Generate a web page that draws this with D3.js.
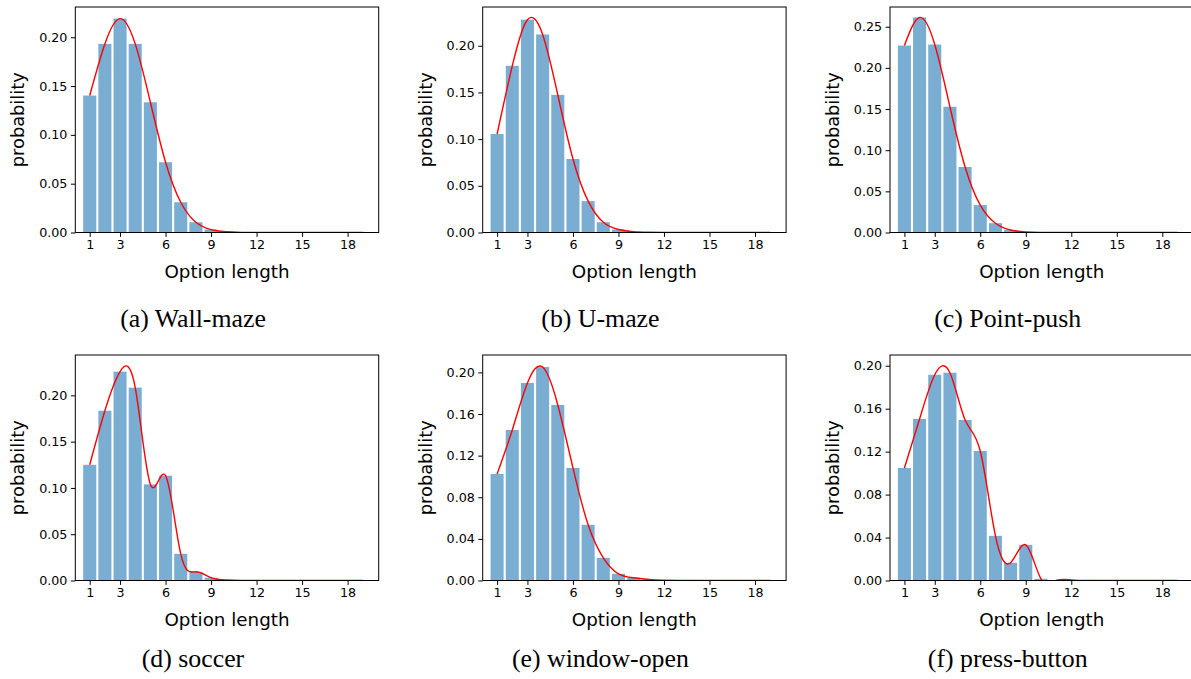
<!DOCTYPE html>
<html>
<head>
<meta charset="utf-8">
<script src="https://cdn.jsdelivr.net/npm/d3@7"></script>
<style>
  html, body { margin: 0; padding: 0; background: #fff; }
  svg { display: block; }
</style>
</head>
<body>
<svg id="chart" width="1191" height="679"></svg>
<script>
// ---------------- data ----------------
const optionLengths = d3.range(1, 20); // 1..19

const wallMaze    = [0.1403, 0.1932, 0.2191, 0.1932, 0.1334, 0.0720, 0.0310, 0.0105, 0.0030, 0.0007, 0.0001, 0, 0, 0, 0, 0, 0, 0, 0];
const uMaze       = [0.1055, 0.1785, 0.2279, 0.2121, 0.1474, 0.0787, 0.0336, 0.0110, 0.0032, 0.0008, 0.0002, 0, 0, 0, 0, 0, 0, 0, 0];
const pointPush   = [0.2272, 0.2613, 0.2284, 0.1528, 0.0796, 0.0333, 0.0113, 0.0030, 0.0007, 0.0001, 0, 0, 0, 0, 0, 0, 0, 0, 0];
const soccer      = [0.1250, 0.1834, 0.2256, 0.2083, 0.1038, 0.1132, 0.0288, 0.0094, 0.0030, 0.0005, 0.0001, 0, 0, 0, 0, 0, 0, 0, 0];
const windowOpen  = [0.1024, 0.1447, 0.1898, 0.2051, 0.1687, 0.1082, 0.0535, 0.0218, 0.0064, 0.0026, 0.0010, 0.0003, 0.0001, 0, 0, 0, 0, 0, 0];
const pressButton = [0.1048, 0.1504, 0.1916, 0.1935, 0.1495, 0.1206, 0.0416, 0.0165, 0.0332, 0.0016, 0, 0.0005, 0, 0, 0, 0, 0, 0, 0];

const panelSeries   = [wallMaze, uMaze, pointPush, soccer, windowOpen, pressButton];
const panelCaptions = ["(a) Wall-maze", "(b) U-maze", "(c) Point-push", "(d) soccer", "(e) window-open", "(f) press-button"];
const panelYMax     = [0.231, 0.2415, 0.274, 0.2436, 0.2167, 0.21];
const yTicksA       = [0, 0.05, 0.10, 0.15, 0.20];
const yTicksC       = [0, 0.05, 0.10, 0.15, 0.20, 0.25];
const yTicksE       = [0, 0.04, 0.08, 0.12, 0.16, 0.20];
const panelYTicks   = [yTicksA, yTicksA, yTicksC, yTicksA, yTicksE, yTicksE];
const xTicks        = [1, 3, 6, 9, 12, 15, 18];
const xDomain       = [0.05, 20.05];
const xLabel        = "Option length";
const yLabel        = "probability";

// ---------------- layout ----------------
const colLeft = [75.3, 482.7, 890];
const rowTop  = [7, 355];
const W = 303.4, H = 225.5;
const barWidth = 0.86;
const captionBaseline = [327, 667];

const svg = d3.select("#chart");
const defs = svg.append("defs");

panelSeries.forEach((series, i) => {
  const col = i % 3, row = Math.floor(i / 3);
  const left = colLeft[col], top = rowTop[row];
  const g = svg.append("g").attr("transform", `translate(${left},${top})`);

  const x = d3.scaleLinear().domain(xDomain).range([0, W]);
  const y = d3.scaleLinear().domain([0, panelYMax[i]]).range([H, 0]);

  const clipId = "clip" + i;
  defs.append("clipPath").attr("id", clipId)
    .append("rect").attr("x", 0).attr("y", 0).attr("width", W).attr("height", H);

  const plot = g.append("g").attr("clip-path", `url(#${clipId})`);

  // bars
  plot.selectAll("rect.bar")
    .data(series)
    .enter().append("rect")
    .attr("class", "bar")
    .attr("x", (d, k) => x(optionLengths[k] - barWidth / 2))
    .attr("width", x(barWidth) - x(0))
    .attr("y", d => y(d))
    .attr("height", d => H - y(d))
    .attr("fill", "#1f77b4")
    .attr("fill-opacity", 0.6);

  // smooth curve through bar values
  const pts = series.map((d, k) => [optionLengths[k], d]);
  const line = d3.line()
    .x(d => x(d[0]))
    .y(d => y(d[1]))
    .curve(d3.curveNatural);
  plot.append("path")
    .attr("d", line(pts))
    .attr("fill", "none")
    .attr("stroke", "red")
    .attr("stroke-width", 1.4);

  // axes
  const xAxis = d3.axisBottom(x).tickValues(xTicks).tickSize(4.4).tickPadding(3.5)
    .tickFormat(d3.format("d"));
  const yFmt = d3.format(".2f");
  const yAxis = d3.axisLeft(y).tickValues(panelYTicks[i]).tickSize(4.4).tickPadding(3.5)
    .tickFormat(yFmt);

  const gx = g.append("g").attr("transform", `translate(0,${H})`).call(xAxis);
  const gy = g.append("g").call(yAxis);
  [gx, gy].forEach(ax => {
    ax.select(".domain").remove();
    ax.selectAll("line").attr("stroke", "#000").attr("stroke-width", 1);
    ax.selectAll("text")
      .attr("font-family", "DejaVu Sans")
      .attr("font-size", 12.7)
      .attr("fill", "#000");
  });

  // frame (spines)
  g.append("rect")
    .attr("x", 0).attr("y", 0).attr("width", W).attr("height", H)
    .attr("fill", "none").attr("stroke", "#000").attr("stroke-width", 1);

  // axis labels
  g.append("text")
    .attr("x", W / 2).attr("y", H + 45)
    .attr("text-anchor", "middle")
    .attr("font-family", "DejaVu Sans").attr("font-size", 18.3)
    .attr("fill", "#000")
    .text(xLabel);

  g.append("text")
    .attr("transform", `translate(${-51},${H / 2}) rotate(-90)`)
    .attr("text-anchor", "middle")
    .attr("font-family", "DejaVu Sans").attr("font-size", 17.8)
    .attr("fill", "#000")
    .text(yLabel);

  // caption
  svg.append("text")
    .attr("x", left + W / 2 - 34).attr("y", captionBaseline[row])
    .attr("text-anchor", "middle")
    .attr("font-family", "Liberation Serif").attr("font-size", 25.8)
    .attr("fill", "#000")
    .text(panelCaptions[i]);
});
</script>
</body>
</html>
